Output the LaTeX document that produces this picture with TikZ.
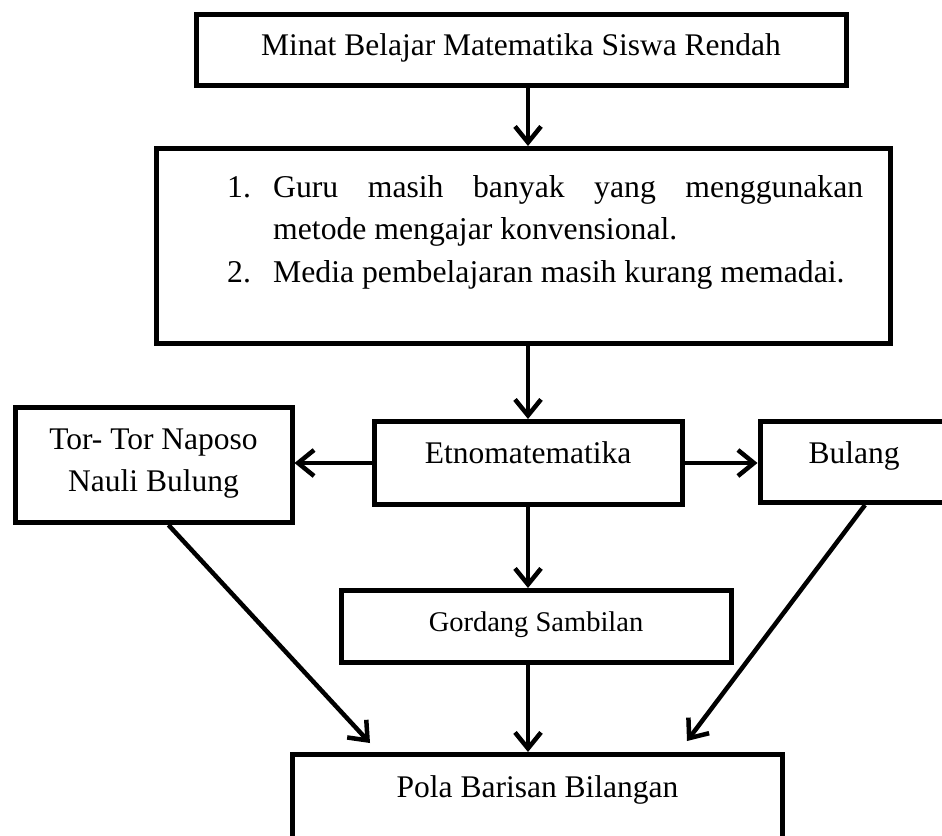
\documentclass[tikz,border=0pt]{standalone}
\usepackage{fontspec}
\setmainfont{Liberation Serif}
\usetikzlibrary{arrows.meta,calc}
\begin{document}
\begin{tikzpicture}[x=1pt,y=-1pt,
  box/.style={draw, line width=5pt, inner xsep=0pt, inner ysep=0pt, anchor=north, font=\fontsize{31.5}{42}\selectfont},
  arr/.style={line width=4.5pt, -{Straight Barb[length=16pt,width=26pt,line width=4.5pt]}},
  txt/.style={inner sep=0pt, anchor=base west, font=\fontsize{31.7}{42}\selectfont}]
\clip (0,0) rectangle (942,835);
\fill[white] (0,0) rectangle (942,835);
% boxes
\node[box, minimum width=650pt, text height=41pt, text depth=30pt] (top) at (521,12) {Minat Belajar Matematika Siswa Rendah};
\node[draw, line width=5pt, inner sep=0pt, minimum width=734pt, minimum height=195pt, anchor=north west] (prob) at (154,146) {};
\node[txt] (n1) at (227,197) {1.};
\node[txt] (l1) at (273,197) {\hbox to 590pt{Guru\hfill masih\hfill banyak\hfill yang\hfill menggunakan}};
\node[txt] (l2) at (273,239) {metode mengajar konvensional.};
\node[txt] (n2) at (227,282) {2.};
\node[txt] (l3) at (273,282) {Media pembelajaran masih kurang memadai.};
\node[box, minimum width=308pt, text height=42pt, text depth=41pt] (etno) at (528,419) {Etnomatematika};
\node[box, minimum width=188pt, text height=42pt, text depth=39pt] (bulang) at (854,419) {Bulang};
\node[box, minimum width=277pt, text height=84pt, text depth=31pt] (tor) at (153.5,405) {\begin{tabular}[b]{@{}c@{}}Tor- Tor Naposo\\Nauli Bulung\end{tabular}};
\node[box, minimum width=390pt, text height=41pt, text depth=31pt, font=\fontsize{28.5}{38}\selectfont] (gord) at (536,588) {Gordang Sambilan};
\node[box, minimum width=490pt, text height=43pt, text depth=55pt] (pola) at (537.5,752) {Pola Barisan Bilangan};
% connectors
\draw[arr] (top.south -| etno.north) -- (prob.north -| etno.north);
\draw[arr] (prob.south -| etno.north) -- (etno.north);
\draw[arr] (etno.west) -- (etno.west -| tor.east);
\draw[arr] (etno.east) -- (etno.east -| bulang.west);
\draw[arr] (etno.south) -- (etno.south |- gord.north);
\draw[arr] (gord.south -| etno.south) -- (pola.north -| etno.south);
\draw[arr] ($(tor.south)+(15,0)$) -- ($(pola.north west)+(80,-9)$);
\draw[arr] ($(bulang.south)+(11,0)$) -- ($(pola.north east)+(-98,-11)$);
\end{tikzpicture}
\end{document}
